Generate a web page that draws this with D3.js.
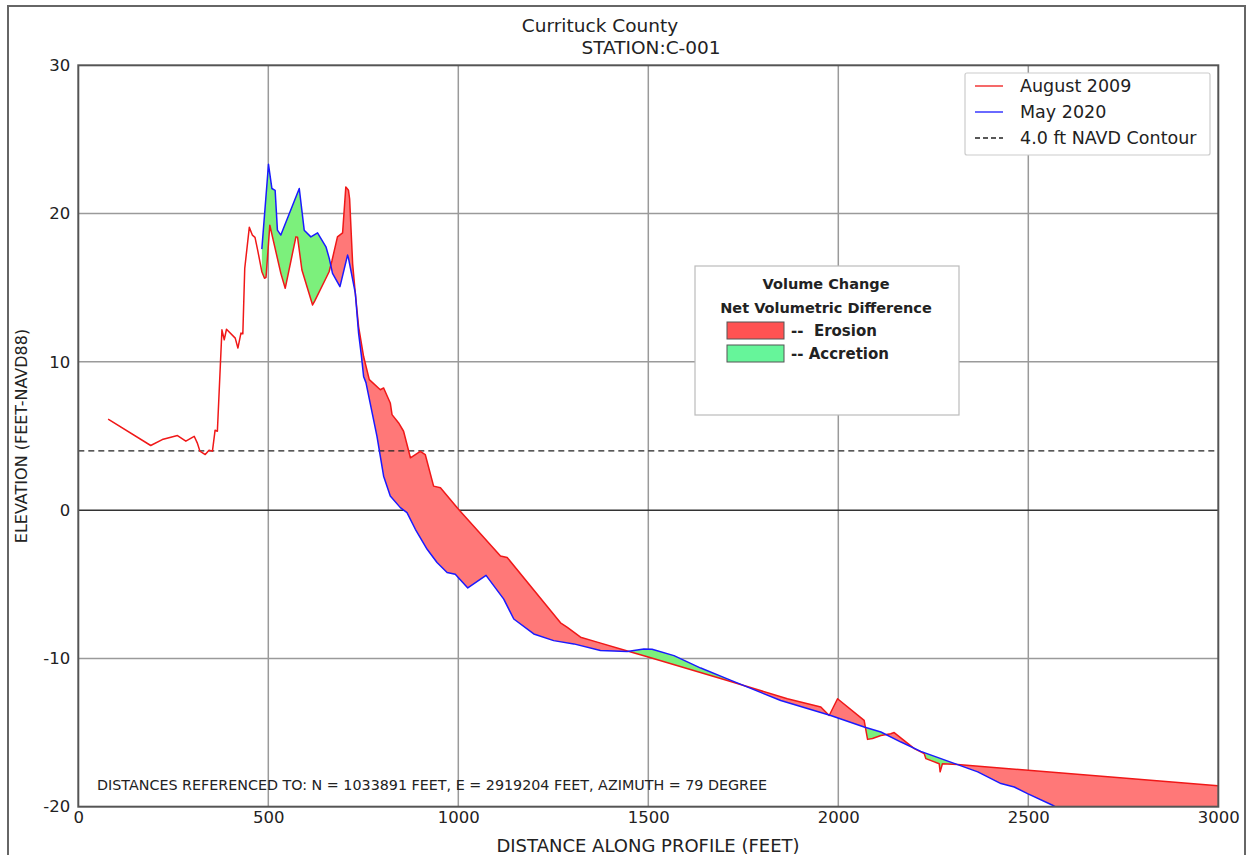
<!DOCTYPE html>
<html><head><meta charset="utf-8">
<script src="https://cdn.jsdelivr.net/npm/d3@7/dist/d3.min.js"></script>
<style>
html,body{margin:0;padding:0;background:#fff;}
text{font-family:"DejaVu Sans",Verdana,sans-serif;fill:#222;}
</style></head>
<body><svg id="c" width="1247" height="855"></svg>
<script>
// ---- Data ----
const aug2009Dist = [78.5,190.6,221,261,283,305,313,320,334,344,353,360,366,378,384,390,413,420,428,433,438,450,458,465,472,483,490,494,504,511,533,544.5,572.7,577,588.5,616.5,622,651.7,660,667.5,682,695.5,704,711,714,722,728,737.6,750.8,765.8,794.8,803.5,821,825.6,843,856,874,887,900,913,935,953,1001,1111,1128.6,1269,1287,1321.7,1365.6,1445,1502,1708,1866,1954,1976,1998,2068,2077,2090,2112,2138,2147,2200,2226,2230.5,2265.5,2268,2274,2314,2999];
const aug2009Elev = [6.14,4.36,4.76,5.03,4.65,4.98,4.54,3.98,3.75,4.04,3.98,5.39,5.32,12.16,11.49,12.2,11.6,10.93,11.94,11.9,16.3,19.07,18.55,18.4,17.54,16.08,15.64,15.7,19.22,18.43,15.97,14.96,18.43,18.4,16.19,13.84,14.1,15.64,16.08,16.82,18.43,18.7,21.8,21.57,21.0,16.6,14.9,12.38,10.36,8.8,8.12,8.24,7.23,6.44,5.88,5.32,3.53,3.75,3.97,3.75,1.62,1.51,0.05,-3.09,-3.19,-7.6,-7.9,-8.57,-8.9,-9.5,-9.92,-11.49,-12.72,-13.28,-13.85,-12.72,-14.18,-15.46,-15.4,-15.2,-15.08,-15.0,-16.08,-16.42,-16.76,-17.1,-17.65,-17.1,-17.16,-18.59];

const may2020Dist = [483,500.5,509.5,518,524,533,581.5,594.5,612,629.6,651.7,660.4,669,688.6,708.6,711,729,737.6,745,750.8,757,786,803.5,821,847.5,865,887,918,944,970.5,992,1025,1073,1119.6,1146,1198.6,1251,1304,1374,1444.7,1488.4,1510,1567.5,1638,1708,1848.5,1980,2068,2112,2165,2217,2314,2367,2428,2463,2498,2564,2580];
const may2020Elev = [17.6,23.32,21.69,21.57,18.88,18.55,21.69,18.88,18.43,18.7,17.76,16.98,15.97,15.07,17.2,17.0,14.63,11.94,10.4,9.02,8.6,4.98,2.29,0.95,0.17,-0.17,-1.29,-2.64,-3.53,-4.2,-4.32,-5.25,-4.4,-6.0,-7.34,-8.35,-8.8,-9.02,-9.47,-9.54,-9.36,-9.38,-9.81,-10.65,-11.38,-12.84,-13.85,-14.63,-14.96,-15.64,-16.27,-17.16,-17.65,-18.44,-18.67,-19.12,-19.9,-20.15];

const contourElev = 4.0;
const xTicks = [0,500,1000,1500,2000,2500,3000];
const yTicks = [-20,-10,0,10,20,30];
const seriesNames = ["August 2009","May 2020","4.0 ft NAVD Contour"];
const volumeLegend = ["--  Erosion","-- Accretion"];

// ---- Layout ----
const svg = d3.select("#c");
const L = 78.3, R = 1218.3, T = 65.3, B = 806.7;
const x = d3.scaleLinear().domain([0,3000]).range([L,R]);
const y = d3.scaleLinear().domain([-20,30]).range([B,T]);

const aug = aug2009Dist.map((d,i)=>({x:d,y:aug2009Elev[i]}));
const may = may2020Dist.map((d,i)=>({x:d,y:may2020Elev[i]}));

// outer frame
svg.append("rect").attr("x",8).attr("y",6).attr("width",1237).attr("height",870)
  .attr("fill","none").attr("stroke","#666").attr("stroke-width",2);

svg.append("defs").append("clipPath").attr("id","clip")
  .append("rect").attr("x",L).attr("y",T).attr("width",R-L).attr("height",B-T);

// grid
const g = svg.append("g");
g.selectAll(".vg").data(xTicks.filter(t=>t>0&&t<3000)).join("line")
  .attr("x1",d=>x(d)).attr("x2",d=>x(d)).attr("y1",T).attr("y2",B)
  .attr("stroke","#9a9a9a").attr("stroke-width",1.5);
g.selectAll(".hg").data(yTicks.filter(t=>t>-20&&t<30&&t!==0)).join("line")
  .attr("x1",L).attr("x2",R).attr("y1",d=>y(d)).attr("y2",d=>y(d))
  .attr("stroke","#9a9a9a").attr("stroke-width",1.5);
g.append("line").attr("x1",L).attr("x2",R).attr("y1",y(0)).attr("y2",y(0))
  .attr("stroke","#333").attr("stroke-width",1.5);

// ---- fills between surveys ----
function interp(arr, xv){
  if (xv < arr[0].x || xv > arr[arr.length-1].x) return null;
  for (let i=1;i<arr.length;i++){
    if (xv <= arr[i].x){
      const a=arr[i-1], b=arr[i];
      const t = (xv-a.x)/(b.x-a.x||1);
      return a.y + t*(b.y-a.y);
    }
  }
  return arr[arr.length-1].y;
}
const x0 = Math.max(aug[0].x, may[0].x), x1 = aug[aug.length-1].x;
let xs = Array.from(new Set(aug.map(d=>d.x).concat(may.map(d=>d.x))))
  .filter(v=>v>=x0 && v<=x1).sort((a,b)=>a-b);
const bottomVal = y.domain()[0];
function pair(v){
  const r = interp(aug,v);
  let b = interp(may,v);
  if (b===null) b = Math.min(bottomVal, r);
  return {x:v, r, b};
}
let pts = xs.map(pair);
let full = [];
for (let i=0;i<pts.length;i++){
  if (i>0){
    const p=pts[i-1], q=pts[i];
    const d0=p.r-p.b, d1=q.r-q.b;
    if (d0*d1<0){
      const t = d0/(d0-d1);
      const cx = p.x + t*(q.x-p.x);
      const cy = p.r + t*(q.r-p.r);
      full.push({x:cx, r:cy, b:cy});
    }
  }
  full.push(pts[i]);
}
const plot = svg.append("g").attr("clip-path","url(#clip)");
plot.append("path").datum(full)
  .attr("d", d3.area().x(d=>x(d.x)).y0(d=>y(Math.min(d.r,d.b))).y1(d=>y(d.r)))
  .attr("fill","#ff7878");
plot.append("path").datum(full)
  .attr("d", d3.area().x(d=>x(d.x)).y0(d=>y(d.r)).y1(d=>y(Math.max(d.r,d.b))))
  .attr("fill","#7cf07c");

// contour
plot.append("line").attr("x1",L).attr("x2",R).attr("y1",y(contourElev)).attr("y2",y(contourElev))
  .attr("stroke","#222").attr("stroke-width",1.2).attr("stroke-dasharray","6,4");

const line = d3.line().x(d=>x(d.x)).y(d=>y(d.y));
plot.append("path").datum(aug).attr("d",line).attr("fill","none")
  .attr("stroke","#f01818").attr("stroke-width",1.5).attr("stroke-linejoin","round");
plot.append("path").datum(may).attr("d",line).attr("fill","none")
  .attr("stroke","#1a1aff").attr("stroke-width",1.5).attr("stroke-linejoin","round");

// plot border
svg.append("rect").attr("x",L).attr("y",T).attr("width",R-L).attr("height",B-T)
  .attr("fill","none").attr("stroke","#555").attr("stroke-width",2);

// axes (labels only)
const fmt = d => String(d);
const ax = svg.append("g").attr("transform",`translate(0,${B})`)
  .call(d3.axisBottom(x).tickValues(xTicks).tickSize(0).tickPadding(5).tickFormat(fmt));
ax.select(".domain").remove();
ax.selectAll("text").attr("font-size",16.5).attr("font-family","DejaVu Sans").attr("fill","#222");
const ay = svg.append("g").attr("transform",`translate(${L},0)`)
  .call(d3.axisLeft(y).tickValues(yTicks).tickSize(0).tickPadding(8).tickFormat(fmt));
ay.select(".domain").remove();
ay.selectAll("text").attr("font-size",16.5).attr("font-family","DejaVu Sans").attr("fill","#222");

// titles
svg.append("text").attr("x",600).attr("y",32).attr("text-anchor","middle").attr("font-size",18.5).text("Currituck County");
svg.append("text").attr("x",651).attr("y",54).attr("text-anchor","middle").attr("font-size",18.5).text("STATION:C-001");
svg.append("text").attr("x",648).attr("y",852).attr("text-anchor","middle").attr("font-size",18).text("DISTANCE ALONG PROFILE (FEET)");
svg.append("text").attr("transform",`translate(27,${(T+B)/2}) rotate(-90)`).attr("text-anchor","middle").attr("font-size",16).text("ELEVATION (FEET-NAVD88)");
svg.append("text").attr("x",97).attr("y",790).attr("font-size",14.3).text("DISTANCES REFERENCED TO: N = 1033891 FEET, E = 2919204 FEET, AZIMUTH = 79 DEGREE");

// series legend
const lg = svg.append("g");
lg.append("rect").attr("x",965).attr("y",73).attr("width",245).attr("height",82)
  .attr("fill","#fff").attr("stroke","#ccc").attr("stroke-width",1.2).attr("rx",2);
const lstyles = [{c:"#f01818",d:null},{c:"#1a1aff",d:null},{c:"#222",d:"5,3"}];
seriesNames.forEach((n,i)=>{
  const yy = 86 + i*26;
  lg.append("line").attr("x1",975).attr("x2",1003).attr("y1",yy).attr("y2",yy)
    .attr("stroke",lstyles[i].c).attr("stroke-width",1.3).attr("stroke-dasharray",lstyles[i].d);
  lg.append("text").attr("x",1020).attr("y",yy+6).attr("font-size",17.5).text(n);
});

// volume change legend
const vg = svg.append("g");
vg.append("rect").attr("x",695).attr("y",266).attr("width",264).attr("height",149)
  .attr("fill","#fff").attr("stroke","#bbb").attr("stroke-width",1.2);
vg.append("text").attr("x",826).attr("y",289).attr("text-anchor","middle")
  .attr("font-family","Lato").attr("font-weight","bold").attr("font-size",14.5).attr("fill","#111").text("Volume Change");
vg.append("text").attr("x",826).attr("y",313).attr("text-anchor","middle")
  .attr("font-family","Lato").attr("font-weight","bold").attr("font-size",14.5).attr("fill","#111").text("Net Volumetric Difference");
const swc = ["#ff5252","#66f59a"];
volumeLegend.forEach((t,i)=>{
  const yy = 322 + i*23;
  vg.append("rect").attr("x",727).attr("y",yy).attr("width",57).attr("height",17)
    .attr("fill",swc[i]).attr("stroke","#555").attr("stroke-width",1);
  vg.append("text").attr("x",791).attr("y",yy+14).attr("xml:space","preserve").style("white-space","pre")
    .attr("font-family","Lato").attr("font-weight","bold").attr("font-size",15).attr("fill","#111").text(t);
});
</script></body></html>
